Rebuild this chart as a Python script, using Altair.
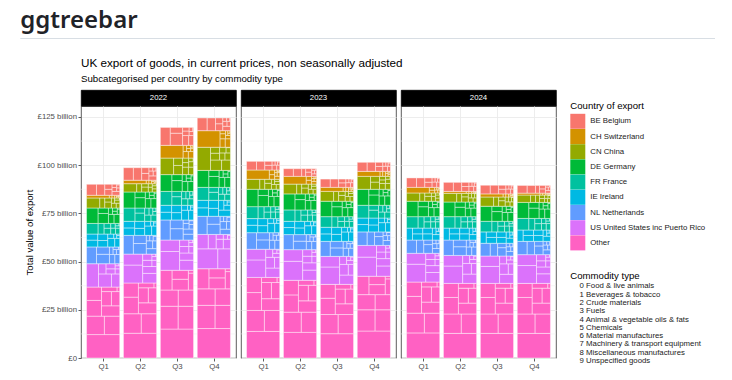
import altair as alt
import pandas as pd

# ---------------- data ----------------
years = ["2022", "2023", "2024"]
quarters = ["Q1", "Q2", "Q3", "Q4"]
countries = ["BE Belgium", "CH Switzerland", "CN China", "DE Germany", "FR France",
             "IE Ireland", "NL Netherlands", "US United States inc Puerto Rico", "Other"]
colors = ["#F8766D", "#D39200", "#93AA00", "#00BA38", "#00C19F",
          "#00B9E3", "#619CFF", "#DB72FB", "#FF61C3"]
commodities = ["0 Food & live animals", "1 Beverages & tobacco", "2 Crude materials", "3 Fuels",
               "4 Animal & vegetable oils & fats", "5 Chemicals", "6 Material manufactures",
               "7 Machinery & transport equipment", "8 Miscellaneous manufactures",
               "9 Unspecified goods"]

# country totals, £ billion, 2022 Q1 ... 2024 Q4
be = [5.7, 6.5, 9.3, 6.6, 4.5, 4.0, 4.3, 4.7, 4.9, 4.7, 4.5, 4.0]
ch = [1.4, 1.8, 6.6, 8.6, 4.8, 4.0, 2.1, 2.6, 2.9, 1.0, 1.6, 1.0]
cn = [5.2, 4.3, 8.6, 12.0, 5.2, 5.1, 5.1, 6.7, 4.3, 4.5, 4.8, 3.8]
de = [8.0, 8.3, 8.7, 8.8, 9.0, 8.3, 8.0, 8.3, 8.0, 7.6, 7.8, 8.3]
fr = [5.5, 6.9, 7.2, 6.7, 6.2, 5.9, 5.5, 6.6, 5.9, 5.9, 5.5, 6.0]
ie = [6.7, 7.3, 7.6, 8.3, 7.3, 6.9, 7.3, 7.2, 6.2, 6.2, 5.9, 5.9]
nl = [8.7, 9.7, 10.4, 9.4, 8.6, 7.8, 7.8, 7.0, 6.9, 8.0, 6.6, 6.9]
us = [12.1, 15.0, 15.7, 17.8, 14.6, 15.9, 14.5, 16.0, 14.9, 14.5, 14.2, 14.9]
other = [36.8, 38.9, 45.5, 46.3, 41.8, 40.3, 38.2, 42.4, 39.4, 38.7, 38.7, 38.7]
totals = [be, ch, cn, de, fr, ie, nl, us, other]

# estimated commodity shares (0..9) for each country
share_be = [0.05, 0.03, 0.04, 0.12, 0.005, 0.30, 0.08, 0.25, 0.10, 0.025]
share_ch = [0.02, 0.03, 0.01, 0.01, 0.002, 0.08, 0.03, 0.08, 0.05, 0.688]
share_cn = [0.03, 0.05, 0.08, 0.05, 0.002, 0.15, 0.07, 0.40, 0.12, 0.048]
share_de = [0.05, 0.03, 0.03, 0.10, 0.005, 0.20, 0.10, 0.35, 0.11, 0.025]
share_fr = [0.07, 0.06, 0.03, 0.08, 0.005, 0.18, 0.09, 0.35, 0.11, 0.025]
share_ie = [0.14, 0.06, 0.02, 0.15, 0.010, 0.15, 0.10, 0.18, 0.16, 0.030]
share_nl = [0.05, 0.03, 0.03, 0.30, 0.005, 0.17, 0.08, 0.22, 0.09, 0.025]
share_us = [0.03, 0.06, 0.01, 0.10, 0.002, 0.22, 0.06, 0.36, 0.14, 0.018]
share_ot = [0.06, 0.05, 0.03, 0.12, 0.005, 0.14, 0.08, 0.33, 0.10, 0.085]
shares = [share_be, share_ch, share_cn, share_de, share_fr, share_ie, share_nl, share_us, share_ot]

y_ticks = [0, 25, 50, 75, 100, 125]
y_minor = [12.5, 37.5, 62.5, 87.5, 112.5]

TITLE = "UK export of goods, in current prices, non seasonally adjusted"
SUBTITLE = "Subcategorised per country by commodity type"
HEADING = "ggtreebar"

# ---------------- layout constants ----------------
PANEL_W = 155
PANEL_H = 252
STRIP_H = 16
X_DOM = [0.4, 4.6]
Y_DOM = [0, 130.7]
PXU = PANEL_W / (X_DOM[1] - X_DOM[0])
PYU = PANEL_H / (Y_DOM[1] - Y_DOM[0])
BAR_HALF = 0.45
FONT = "Liberation Sans"


# ---------------- treemap layout (squarified) ----------------
def worst(row, short):
    s = sum(row)
    return max(short * short * max(row) / (s * s), (s * s) / (short * short * min(row)))


def squarify(areas, x, y, w, h):
    out = []
    items = list(areas)
    while items:
        short = min(w, h)
        row = [items[0]]
        i = 1
        while i < len(items) and worst([a for _, a in row + [items[i]]], short) <= worst([a for _, a in row], short):
            row.append(items[i])
            i += 1
        s = sum(a for _, a in row)
        if w >= h:
            cw = s / h
            yy = y
            for k, a in row:
                rh = a / cw
                out.append((k, x, yy, cw, rh))
                yy += rh
            x += cw
            w -= cw
        else:
            rh = s / w
            xx = x
            for k, a in row:
                rw = a / rh
                out.append((k, xx, y, rw, rh))
                xx += rw
            y += rh
            h -= rh
        items = items[i:]
    return out


records = []
for yi, yr in enumerate(years):
    for qi in range(4):
        idx = yi * 4 + qi
        base = 0.0
        for ci in reversed(range(len(countries))):
            tot = totals[ci][idx]
            vals = [tot * s for s in shares[ci]]
            wpx = 2 * BAR_HALF * PXU
            hpx = tot * PYU
            sv = sum(vals)
            items = sorted([(k, v / sv * wpx * hpx) for k, v in enumerate(vals)], key=lambda t: -t[1])
            for k, px, py, pw, ph in squarify(items, 0.0, 0.0, wpx, hpx):
                x0 = qi + 1 - BAR_HALF + px / PXU
                y0 = base + py / PYU
                records.append({
                    "year": yr, "quarter": quarters[qi], "country": countries[ci],
                    "commodity": commodities[k], "value": round(vals[k], 3),
                    "x": x0, "x2": x0 + pw / PXU, "y": y0, "y2": y0 + ph / PYU,
                })
            base += tot
rects = pd.DataFrame(records)

# ---------------- chart ----------------
x_scale = alt.Scale(domain=X_DOM, nice=False, zero=False)
y_scale = alt.Scale(domain=Y_DOM, nice=False, zero=False)

country_legend = alt.Legend(
    title="Country of export", orient="none", legendX=489.3, legendY=11.2,
    symbolType="square", symbolSize=225, symbolStrokeWidth=0, rowPadding=0.2,
    labelOffset=5, labelFontSize=7.8, labelFont=FONT, labelColor="#222222",
    titleFontSize=9.6, titleFont=FONT, titleFontWeight="normal", titleColor="black",
    titlePadding=3, padding=0,
)
commodity_legend = alt.Legend(
    title="Commodity type", orient="none", legendX=489.3, legendY=181.3,
    symbolSize=0, symbolStrokeWidth=0, symbolOpacity=0, labelOffset=1.5, rowPadding=-0.7,
    labelFontSize=7.8, labelFont=FONT, labelColor="#222222",
    titleFontSize=9.6, titleFont=FONT, titleFontWeight="normal", titleColor="black",
    titlePadding=1.5, padding=0,
)

x_axis = alt.Axis(values=[1, 2, 3, 4], labelExpr="'Q' + datum.value", title=None,
                  grid=True, domain=False, tickSize=3, labelPadding=1.5)


def panel(yi):
    if yi == 0:
        y_axis = alt.Axis(values=y_ticks, title="Total value of export", grid=True, domain=False,
                          labelExpr="datum.value == 0 ? '£0' : '£' + datum.value + ' billion'",
                          tickSize=3, labelPadding=1.5, titlePadding=3)
    else:
        y_axis = alt.Axis(values=y_ticks, title=None, grid=True, domain=False,
                          labels=False, ticks=False)
    minor = alt.Chart(pd.DataFrame({"v": y_minor})).mark_rule(
        color="#EFEFEF", strokeWidth=0.5).encode(y=alt.Y("v:Q", scale=y_scale, axis=y_axis))
    bars = alt.Chart(rects[rects["year"] == years[yi]]).mark_rect(
        stroke="white", strokeWidth=0.5, strokeOpacity=0.85).encode(
        x=alt.X("x:Q", scale=x_scale, axis=x_axis),
        x2="x2:Q",
        y=alt.Y("y:Q", scale=y_scale, axis=y_axis),
        y2="y2:Q",
        color=alt.Color("country:N", scale=alt.Scale(domain=countries, range=colors),
                        legend=country_legend),
        tooltip=["year", "quarter", "country", "commodity", "value"],
    )
    layers = [minor, bars]
    if yi == 0:
        dummy = alt.Chart(pd.DataFrame({"c": commodities})).mark_point(opacity=0).encode(
            shape=alt.Shape("c:N", sort=commodities, legend=commodity_legend))
        layers.append(dummy)
    return alt.layer(*layers).properties(width=PANEL_W, height=PANEL_H)


def strip_text(yr):
    return alt.Chart(pd.DataFrame({"year": [yr]})).mark_text(
        color="white", fontSize=7.8, font=FONT).encode(
        text="year:N", x=alt.value(PANEL_W / 2), y=alt.value(STRIP_H / 2))


strip_view = alt.ViewBackground(fill="black", stroke="black")

# header texts (page heading, rule, chart title and subtitle) live above the first strip
one = pd.DataFrame({"t": [HEADING]})
heading = alt.Chart(one).mark_text(
    font="Noto Sans", fontSize=24, fontWeight=600, color="#1F2328",
    align="left", baseline="alphabetic").encode(
    text="t:N", x=alt.value(-60.7), y=alt.value(-62))
hrule = alt.Chart(one).mark_rule(color="#D8DEE4", strokeWidth=1).encode(
    x=alt.value(-60.7), x2=alt.value(634), y=alt.value(-51.5))
title = alt.Chart(pd.DataFrame({"t": [TITLE]})).mark_text(
    font=FONT, fontSize=11.7, color="black", align="left", baseline="alphabetic").encode(
    text="t:N", x=alt.value(0), y=alt.value(-23))
subtitle = alt.Chart(pd.DataFrame({"t": [SUBTITLE]})).mark_text(
    font=FONT, fontSize=9.7, color="black", align="left", baseline="alphabetic").encode(
    text="t:N", x=alt.value(0), y=alt.value(-8))

strips = []
for i, yr in enumerate(years):
    layers = [strip_text(yr)]
    if i == 0:
        layers = [heading, hrule, title, subtitle] + layers
    strips.append(alt.layer(*layers).properties(width=PANEL_W, height=STRIP_H, view=strip_view))

panels = [panel(i) for i in range(3)]

chart = alt.ConcatChart(
    concat=strips + panels, columns=3, spacing={"row": 0, "column": 5}, bounds="flush"
).properties(
    padding={"left": 11, "top": 0, "right": 5, "bottom": 5}
).configure(font=FONT).configure_view(
    stroke="#333333", strokeWidth=0.8
).configure_axis(
    labelFont=FONT, labelFontSize=7.8, labelColor="#4D4D4D",
    tickColor="#333333", tickWidth=0.8,
    gridColor="#EBEBEB", gridWidth=0.9,
    titleFont=FONT, titleFontSize=9.6, titleFontWeight="normal", titleColor="black",
)

chart.save("out.html", embed_options={"renderer": "svg", "actions": False})
